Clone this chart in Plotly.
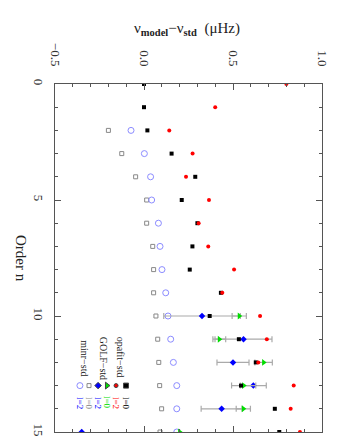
import plotly.graph_objects as go

# ---------------- data ----------------
order_opafit = [0, 1, 2, 3, 4, 5, 6, 7, 8, 9, 10, 11, 12, 13, 14, 15]
opafit_l0 = [0.0, 0.0, 0.019, 0.155, 0.288, 0.212, 0.30, 0.272, 0.257, 0.432, 0.369, 0.533, 0.628, 0.545, 0.735, 0.76]
opafit_l2 = [0.80, 0.40, 0.142, 0.273, 0.236, 0.365, 0.307, 0.361, 0.506, 0.440, 0.652, 0.69, 0.642, 0.841, 0.824, 0.876]

order_golf = [10, 11, 12, 13, 14, 15]
golf_l0 = [0.535, 0.423, 0.672, 0.560, 0.558, 0.20]
golf_l0_err = [0.04, 0.036, 0.049, 0.068, 0.04, 0.0]
golf_l2 = [0.326, 0.559, 0.50, 0.614, 0.436, -0.35]
golf_l2_err = [0.215, 0.16, 0.09, 0.073, 0.115, 0.0]

order_minr = [2, 3, 4, 5, 6, 7, 8, 9, 10, 11, 12, 13, 14, 15]
minr_l0 = [-0.20, -0.125, -0.047, 0.015, 0.015, 0.049, 0.054, 0.054, 0.067, 0.077, 0.083, 0.088, 0.099, 0.09]
minr_l2 = [-0.073, 0.002, 0.037, 0.043, 0.081, 0.09, 0.101, 0.122, 0.135, 0.15, 0.165, 0.184, 0.184, 0.184]

x_tickvals = [-0.5, 0.0, 0.5, 1.0]
x_ticktext = ["\u22120.5", "0.0", "0.5", "1.0"]
y_tickvals = [0, 5, 10, 15]
y_ticktext = ["0", "5", "10", "15"]

# ---------------- style ----------------
FONT = "Liberation Serif"
AX = "#555555"
ERR = "#aaaaaa"
GREEN = "#00dd00"
BLUE = "#0000ff"
LBLUE = "#8c8cff"
GRAY = "#888888"

fig = go.Figure()

fig.add_trace(go.Scatter(x=minr_l0, y=order_minr, mode="markers",
                         marker=dict(symbol="square-open", size=4, color=GRAY, line=dict(width=1))))
fig.add_trace(go.Scatter(x=minr_l2, y=order_minr, mode="markers",
                         marker=dict(symbol="circle-open", size=6, color=LBLUE, line=dict(width=1))))
fig.add_trace(go.Scatter(x=golf_l2, y=order_golf, mode="markers",
                         error_x=dict(type="data", array=golf_l2_err, color=ERR, thickness=1.2, width=3),
                         marker=dict(symbol="diamond", size=5, color=BLUE)))
fig.add_trace(go.Scatter(x=golf_l0, y=order_golf, mode="markers",
                         error_x=dict(type="data", array=golf_l0_err, color=ERR, thickness=1.2, width=3),
                         marker=dict(symbol="triangle-right", size=6, color=GREEN)))
fig.add_trace(go.Scatter(x=opafit_l0, y=order_opafit, mode="markers",
                         marker=dict(symbol="square", size=4, color="black")))
fig.add_trace(go.Scatter(x=opafit_l2, y=order_opafit, mode="markers",
                         marker=dict(symbol="circle", size=4, color="red")))

# ---------------- in-plot legend ----------------
leg_y = 13.0
leg_lab_y = 13.75
leg_items = [
    (-0.360, "circle-open", 6, LBLUE, "l=2", BLUE),
    (-0.309, "square-open", 4, GRAY, "l=0", GRAY),
    (-0.258, "diamond", 5, BLUE, "l=2", BLUE),
    (-0.208, "triangle-right", 6, GREEN, "l=0", GREEN),
    (-0.157, "circle", 4, "red", "l=2", "red"),
    (-0.101, "square", 5, "black", "l=0", "black"),
]
for lx, sym, sz, col, lab, lcol in leg_items:
    fig.add_trace(go.Scatter(x=[lx], y=[leg_y], mode="markers",
                             marker=dict(symbol=sym, size=sz, color=col, line=dict(width=1))))
    fig.add_annotation(x=lx, y=leg_lab_y, xref="x", yref="y", text=lab, showarrow=False,
                       xanchor="center", yanchor="middle",
                       textangle=90, font=dict(family=FONT, size=9, color=lcol))

for lx, lab in [(-0.135, "opafit\u2212std"), (-0.23, "GOLF\u2212std"), (-0.334, "minr\u2212std")]:
    fig.add_annotation(x=lx, y=11.8, xref="x", yref="y", text=lab, showarrow=False,
                       xanchor="center", yanchor="middle",
                       textangle=90, font=dict(family=FONT, size=10, color="#222222"))

# ---------------- titles ----------------
fig.add_annotation(x=0.494, y=1.158, xref="paper", yref="paper", xanchor="center", yanchor="middle",
                   text="\u03bd<sub><b>model</b></sub>\u2212\u03bd<sub><b>std</b></sub>  (\u03bcHz)",
                   showarrow=False, font=dict(family=FONT, size=15, color="#222222"))
fig.add_annotation(x=-0.127, y=0.5, xref="paper", yref="paper", xanchor="center", yanchor="middle",
                   text="Order n",
                   showarrow=False, textangle=90, font=dict(family=FONT, size=15, color="#222222"))

# the page body adds an 8px offset, so the figure is 8px smaller than the window
fig.update_layout(
    width=342, height=429,
    margin=dict(l=47, r=28, t=76, b=5, autoexpand=False),
    paper_bgcolor="white", plot_bgcolor="white",
    showlegend=False,
    font=dict(family=FONT, color="#222222"),
    xaxis=dict(side="top", range=[-0.5, 1.0], tickvals=x_tickvals, ticktext=x_ticktext,
               automargin=False,
               tickangle=90, ticks="inside", ticklen=6, tickcolor=AX, tickwidth=1,
               showline=True, linecolor=AX, linewidth=1, mirror="allticks",
               showgrid=False, zeroline=False, ticklabelstandoff=12,
               tickfont=dict(family=FONT, size=13, color="#333333"),
               minor=dict(dtick=0.1, tick0=0, ticks="inside", ticklen=3, tickcolor=AX, showgrid=False)),
    yaxis=dict(range=[15, 0], tickvals=y_tickvals, ticktext=y_ticktext,
               automargin=False,
               tickangle=90, ticks="inside", ticklen=6, tickcolor=AX, tickwidth=1,
               showline=True, linecolor=AX, linewidth=1, mirror="allticks",
               showgrid=False, zeroline=False, ticklabelstandoff=4,
               tickfont=dict(family=FONT, size=13, color="#333333"),
               minor=dict(dtick=1, tick0=0, ticks="inside", ticklen=3, tickcolor=AX, showgrid=False)),
)

fig.write_html("out.html")
